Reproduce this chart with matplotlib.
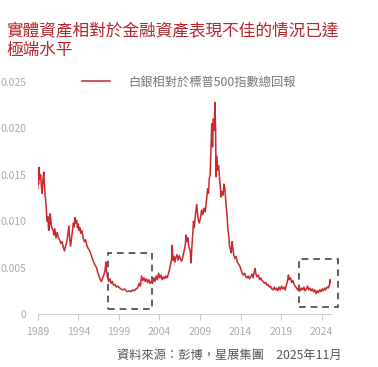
import matplotlib
matplotlib.use("Agg")
import matplotlib.pyplot as plt
from matplotlib.patches import Rectangle

plt.rcParams['font.family'] = ['Noto Sans CJK TC', 'DejaVu Sans']

title = "實體資產相對於金融資產表現不佳的情況已達\n極端水平"
series_name = "白銀相對於標普500指數總回報"
source = "資料來源：彭博，星展集團　2025年11月"

years = [
    1989.0, 1989.05, 1989.1, 1989.15, 1989.25, 1989.35, 1989.45, 1989.55, 1989.65, 1989.75,
    1989.85, 1989.95, 1990.05, 1990.15, 1990.25, 1990.35, 1990.45, 1990.55, 1990.65, 1990.75,
    1990.9, 1991.0, 1991.1, 1991.25, 1991.4, 1991.55, 1991.7, 1991.85, 1992.0, 1992.15,
    1992.3, 1992.45, 1992.6, 1992.75, 1992.85, 1992.95, 1993.05, 1993.15, 1993.3, 1993.4,
    1993.5, 1993.6, 1993.7, 1993.8, 1993.9, 1994.0, 1994.1, 1994.2, 1994.3, 1994.45,
    1994.6, 1994.75, 1994.9, 1995.05, 1995.2, 1995.35, 1995.5, 1995.65, 1995.8, 1995.95,
    1996.1, 1996.25, 1996.4, 1996.55, 1996.7, 1996.85, 1997.0, 1997.15, 1997.3, 1997.4,
    1997.5, 1997.6, 1997.75, 1997.9, 1998.05, 1998.2, 1998.35, 1998.5, 1998.7, 1998.9,
    1999.1, 1999.3, 1999.5, 1999.7, 1999.9, 2000.1, 2000.3, 2000.5, 2000.7, 2000.9,
    2001.1, 2001.3, 2001.5, 2001.65, 2001.8, 2001.95, 2002.1, 2002.25, 2002.4, 2002.55,
    2002.7, 2002.85, 2003.0, 2003.15, 2003.3, 2003.45, 2003.6, 2003.75, 2003.9, 2004.05,
    2004.2, 2004.35, 2004.5, 2004.65, 2004.8, 2004.95, 2005.1, 2005.25, 2005.4, 2005.5,
    2005.58, 2005.68, 2005.8, 2005.9, 2006.0, 2006.15, 2006.3, 2006.45, 2006.6, 2006.75,
    2006.9, 2007.05, 2007.2, 2007.3, 2007.4, 2007.5, 2007.65, 2007.8, 2007.9, 2008.0,
    2008.1, 2008.2, 2008.3, 2008.45, 2008.6, 2008.75, 2008.9, 2009.05, 2009.2, 2009.35,
    2009.5, 2009.65, 2009.8, 2009.95, 2010.05, 2010.15, 2010.25, 2010.35, 2010.45, 2010.55,
    2010.65, 2010.75, 2010.85, 2010.92, 2011.0, 2011.05, 2011.15, 2011.3, 2011.4, 2011.5,
    2011.6, 2011.7, 2011.85, 2011.95, 2012.05, 2012.15, 2012.25, 2012.35, 2012.45, 2012.55,
    2012.65, 2012.75, 2012.85, 2012.95, 2013.05, 2013.15, 2013.3, 2013.45, 2013.6, 2013.75,
    2013.9, 2014.05, 2014.2, 2014.35, 2014.5, 2014.65, 2014.8, 2014.95, 2015.1, 2015.25,
    2015.4, 2015.55, 2015.7, 2015.8, 2015.9, 2016.05, 2016.2, 2016.35, 2016.5, 2016.65,
    2016.8, 2016.95, 2017.1, 2017.25, 2017.4, 2017.55, 2017.7, 2017.85, 2018.0, 2018.15,
    2018.3, 2018.45, 2018.6, 2018.75, 2018.9, 2019.05, 2019.2, 2019.35, 2019.5, 2019.65,
    2019.8, 2019.9, 2020.0, 2020.15, 2020.3, 2020.45, 2020.6, 2020.75, 2020.9, 2021.05,
    2021.2, 2021.35, 2021.5, 2021.65, 2021.8, 2021.95, 2022.1, 2022.25, 2022.4, 2022.55,
    2022.7, 2022.85, 2023.0, 2023.15, 2023.3, 2023.45, 2023.6, 2023.75, 2023.9, 2024.05,
    2024.2, 2024.35, 2024.5, 2024.65, 2024.8, 2024.95, 2025.05, 2025.1,
]

ratio = [
    0.0135, 0.0148, 0.0140, 0.0158, 0.0145, 0.0150, 0.0138, 0.0130, 0.0145, 0.0153,
    0.0135, 0.0125, 0.0115, 0.0100, 0.0105, 0.0090, 0.0095, 0.0108, 0.0098, 0.0093,
    0.0090, 0.0085, 0.0092, 0.0082, 0.0088, 0.0082, 0.0080, 0.0076, 0.0078, 0.0072,
    0.0068, 0.0074, 0.0078, 0.0088, 0.0095, 0.0080, 0.0073, 0.0080, 0.0090, 0.0098,
    0.0094, 0.0104, 0.0098, 0.0101, 0.0093, 0.0097, 0.0090, 0.0093, 0.0087, 0.0090,
    0.0082, 0.0078, 0.0080, 0.0074, 0.0071, 0.0069, 0.0066, 0.0062, 0.0058, 0.0055,
    0.0052, 0.0050, 0.0045, 0.0041, 0.0037, 0.0035, 0.0039, 0.0042, 0.0047, 0.0056,
    0.0045, 0.0040, 0.0035, 0.0038, 0.0033, 0.0035, 0.0031, 0.0032, 0.0029, 0.0030,
    0.0028, 0.0027, 0.0026, 0.0027, 0.0025, 0.0024, 0.0025, 0.0024, 0.0026, 0.0025,
    0.0027, 0.0028, 0.0033, 0.0030, 0.0041, 0.0036, 0.0039, 0.0035, 0.0038, 0.0034,
    0.0037, 0.0033, 0.0035, 0.0033, 0.0039, 0.0035, 0.0041, 0.0037, 0.0044, 0.0039,
    0.0042, 0.0037, 0.0040, 0.0038, 0.0041, 0.0039, 0.0043, 0.0048, 0.0055, 0.0058,
    0.0074, 0.0058, 0.0062, 0.0056, 0.0060, 0.0064, 0.0058, 0.0063, 0.0059, 0.0057,
    0.0062, 0.0068, 0.0075, 0.0085, 0.0078, 0.0082, 0.0072, 0.0068, 0.0055, 0.0072,
    0.0085, 0.0100, 0.0093, 0.0108, 0.0118, 0.0104, 0.0098, 0.0103, 0.0112, 0.0107,
    0.0114, 0.0110, 0.0122, 0.0135, 0.0130, 0.0146, 0.0150, 0.0175, 0.0205, 0.0180,
    0.0210, 0.0198, 0.0228, 0.0200, 0.0148, 0.0170, 0.0155, 0.0160, 0.0148, 0.0138,
    0.0126, 0.0132, 0.0128, 0.0140, 0.0136, 0.0125, 0.0115, 0.0105, 0.0090, 0.0085,
    0.0072, 0.0070, 0.0066, 0.0078, 0.0072, 0.0064, 0.0060, 0.0062, 0.0056, 0.0054,
    0.0052, 0.0048, 0.0044, 0.0042, 0.0044, 0.0040, 0.0039, 0.0041, 0.0038, 0.0040,
    0.0043, 0.0039, 0.0046, 0.0049, 0.0043, 0.0040, 0.0042, 0.0037, 0.0039, 0.0036,
    0.0035, 0.0033, 0.0034, 0.0031, 0.0032, 0.0029, 0.0030, 0.0027, 0.0026, 0.0029,
    0.0026, 0.0028, 0.0025, 0.0029, 0.0026, 0.0030, 0.0027, 0.0029, 0.0026, 0.0031,
    0.0036, 0.0042, 0.0037, 0.0039, 0.0034, 0.0036, 0.0032, 0.0030, 0.0028, 0.0026,
    0.0029, 0.0025, 0.0028, 0.0026, 0.0029, 0.0025, 0.0027, 0.0030, 0.0026, 0.0028,
    0.0025, 0.0027, 0.0024, 0.0026, 0.0022, 0.0025, 0.0023, 0.0026, 0.0024, 0.0027,
    0.0025, 0.0028, 0.0026, 0.0029, 0.0028, 0.0031, 0.0037, 0.0034,
]

x_ticks = [1989, 1994, 1999, 2004, 2009, 2014, 2019, 2024]
y_ticks = [0, 0.005, 0.010, 0.015, 0.020, 0.025]
y_tick_labels = ["0", "0.005", "0.010", "0.015", "0.020", "0.025"]

# highlighted periods (x0, x1, y0, y1)
box_x0 = [1997.7, 2021.2]
box_x1 = [2003.1, 2026.0]
box_y0 = [0.0005, 0.0008]
box_y1 = [0.0066, 0.0059]

W, H = 378, 367
fig = plt.figure(figsize=(W / 100, H / 100), dpi=100)
ax_w = 331 - 37.7
ax = fig.add_axes([37.7 / W, (H - 314) / H, ax_w / W, (314 - 82) / H])

red = "#C8282E"
line, = ax.plot(years, ratio, color=red, lw=1.1)

for a, b, c, d in zip(box_x0, box_x1, box_y0, box_y1):
    ax.add_patch(Rectangle((a, c), b - a, d - c, fill=False, ec="#444444",
                           lw=1.2, ls=(0, (4, 3)), clip_on=False))

ax.set_xlim(1989, 2025.15)
ax.set_ylim(0, 0.025)
ax.set_xticks(x_ticks)
ax.set_xticklabels([str(t) for t in x_ticks])
ax.set_yticks(y_ticks)
ax.set_yticklabels(y_tick_labels)
for s in ["top", "right", "left"]:
    ax.spines[s].set_visible(False)
ax.spines["bottom"].set_color("#cccccc")
ax.tick_params(axis="x", colors="#cccccc", length=4, width=0.8, labelsize=7.5,
               labelcolor="#aaaaaa", pad=5.5)
ax.tick_params(axis="y", length=0, labelsize=7.5, labelcolor="#aaaaaa", pad=8)

fig.text(6 / W, 1 - 23 / H, title, color="#B5252B", fontsize=12, va="top",
         ha="left", linespacing=1.12)

leg = ax.legend([line], [series_name], loc="center left",
                bbox_to_anchor=((82 - 37.7) / ax_w, 1.0), frameon=False,
                borderaxespad=0, borderpad=0,
                fontsize=8.8, handlelength=2.3, handletextpad=1.45, labelcolor="#777777")

fig.text(342 / W, 1 - 355 / H, source, color="#555555", fontsize=8.8, ha="right",
         va="center")

fig.savefig("out.png", dpi=100)
